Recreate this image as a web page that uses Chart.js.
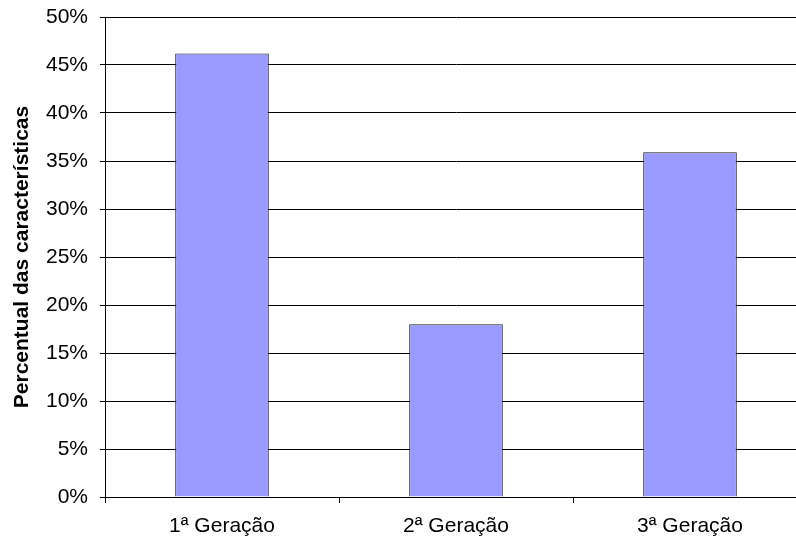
<!DOCTYPE html>
<html>
<head>
<meta charset="utf-8">
<script src="https://cdn.jsdelivr.net/npm/chart.js@4"></script>
<style>
  html, body { margin: 0; padding: 0; background: #fff; overflow: hidden; }
  #wrap { position: relative; width: 807px; height: 540px; }
</style>
</head>
<body>
<div id="wrap"><canvas id="c"></canvas></div>
<script>
// Share of characteristics per generation (%)
const categories = ['1ª Geração', '2ª Geração', '3ª Geração'];
const percentuais = [46.2, 18.0, 35.9];
const yTicks = [0, 5, 10, 15, 20, 25, 30, 35, 40, 45, 50];
const yTitle = 'Percentual das características';

Chart.defaults.font.family = '"Liberation Sans", Arial, sans-serif';
Chart.defaults.color = '#000';

new Chart(document.getElementById('c'), {
  type: 'bar',
  data: {
    labels: categories,
    datasets: [{
      data: percentuais,
      backgroundColor: '#9999FF',
      borderColor: '#1a1a1a',
      borderWidth: 1,
      categoryPercentage: 1.0,
      barPercentage: 0.4
    }]
  },
  options: {
    responsive: true,
    maintainAspectRatio: false,
    animation: false,
    events: [],
    layout: { padding: { top: 17, right: 0, bottom: 0, left: 0 } },
    plugins: { legend: { display: false }, tooltip: { enabled: false } },
    scales: {
      x: {
        grid: { offset: true, drawOnChartArea: false, drawTicks: true, tickLength: 6, color: '#000' },
        border: { display: true, color: '#000', width: 1 },
        ticks: { font: { size: 21 }, padding: 11, color: '#000', maxRotation: 0 },
        afterFit(scale) { scale.height = 43; }
      },
      y: {
        min: yTicks[0],
        max: yTicks[yTicks.length - 1],
        afterBuildTicks(scale) { scale.ticks = yTicks.map(v => ({ value: v })); },
        grid: { color: '#000', lineWidth: 1, tickLength: 5 },
        border: { display: true, color: '#000', width: 1 },
        ticks: { font: { size: 21 }, padding: 12, color: '#000', callback: v => v + '%' },
        title: {
          display: true,
          text: yTitle,
          font: { size: 21, weight: 'bold' },
          color: '#000',
          padding: { top: 10, bottom: 0 }
        },
        afterFit(scale) {
          scale.width = 105;
          // keep the plot top pinned by the layout padding, not by the label overflow
          scale.paddingTop = 0;
          scale.paddingBottom = 0;
        }
      }
    }
  }
});
</script>
</body>
</html>
